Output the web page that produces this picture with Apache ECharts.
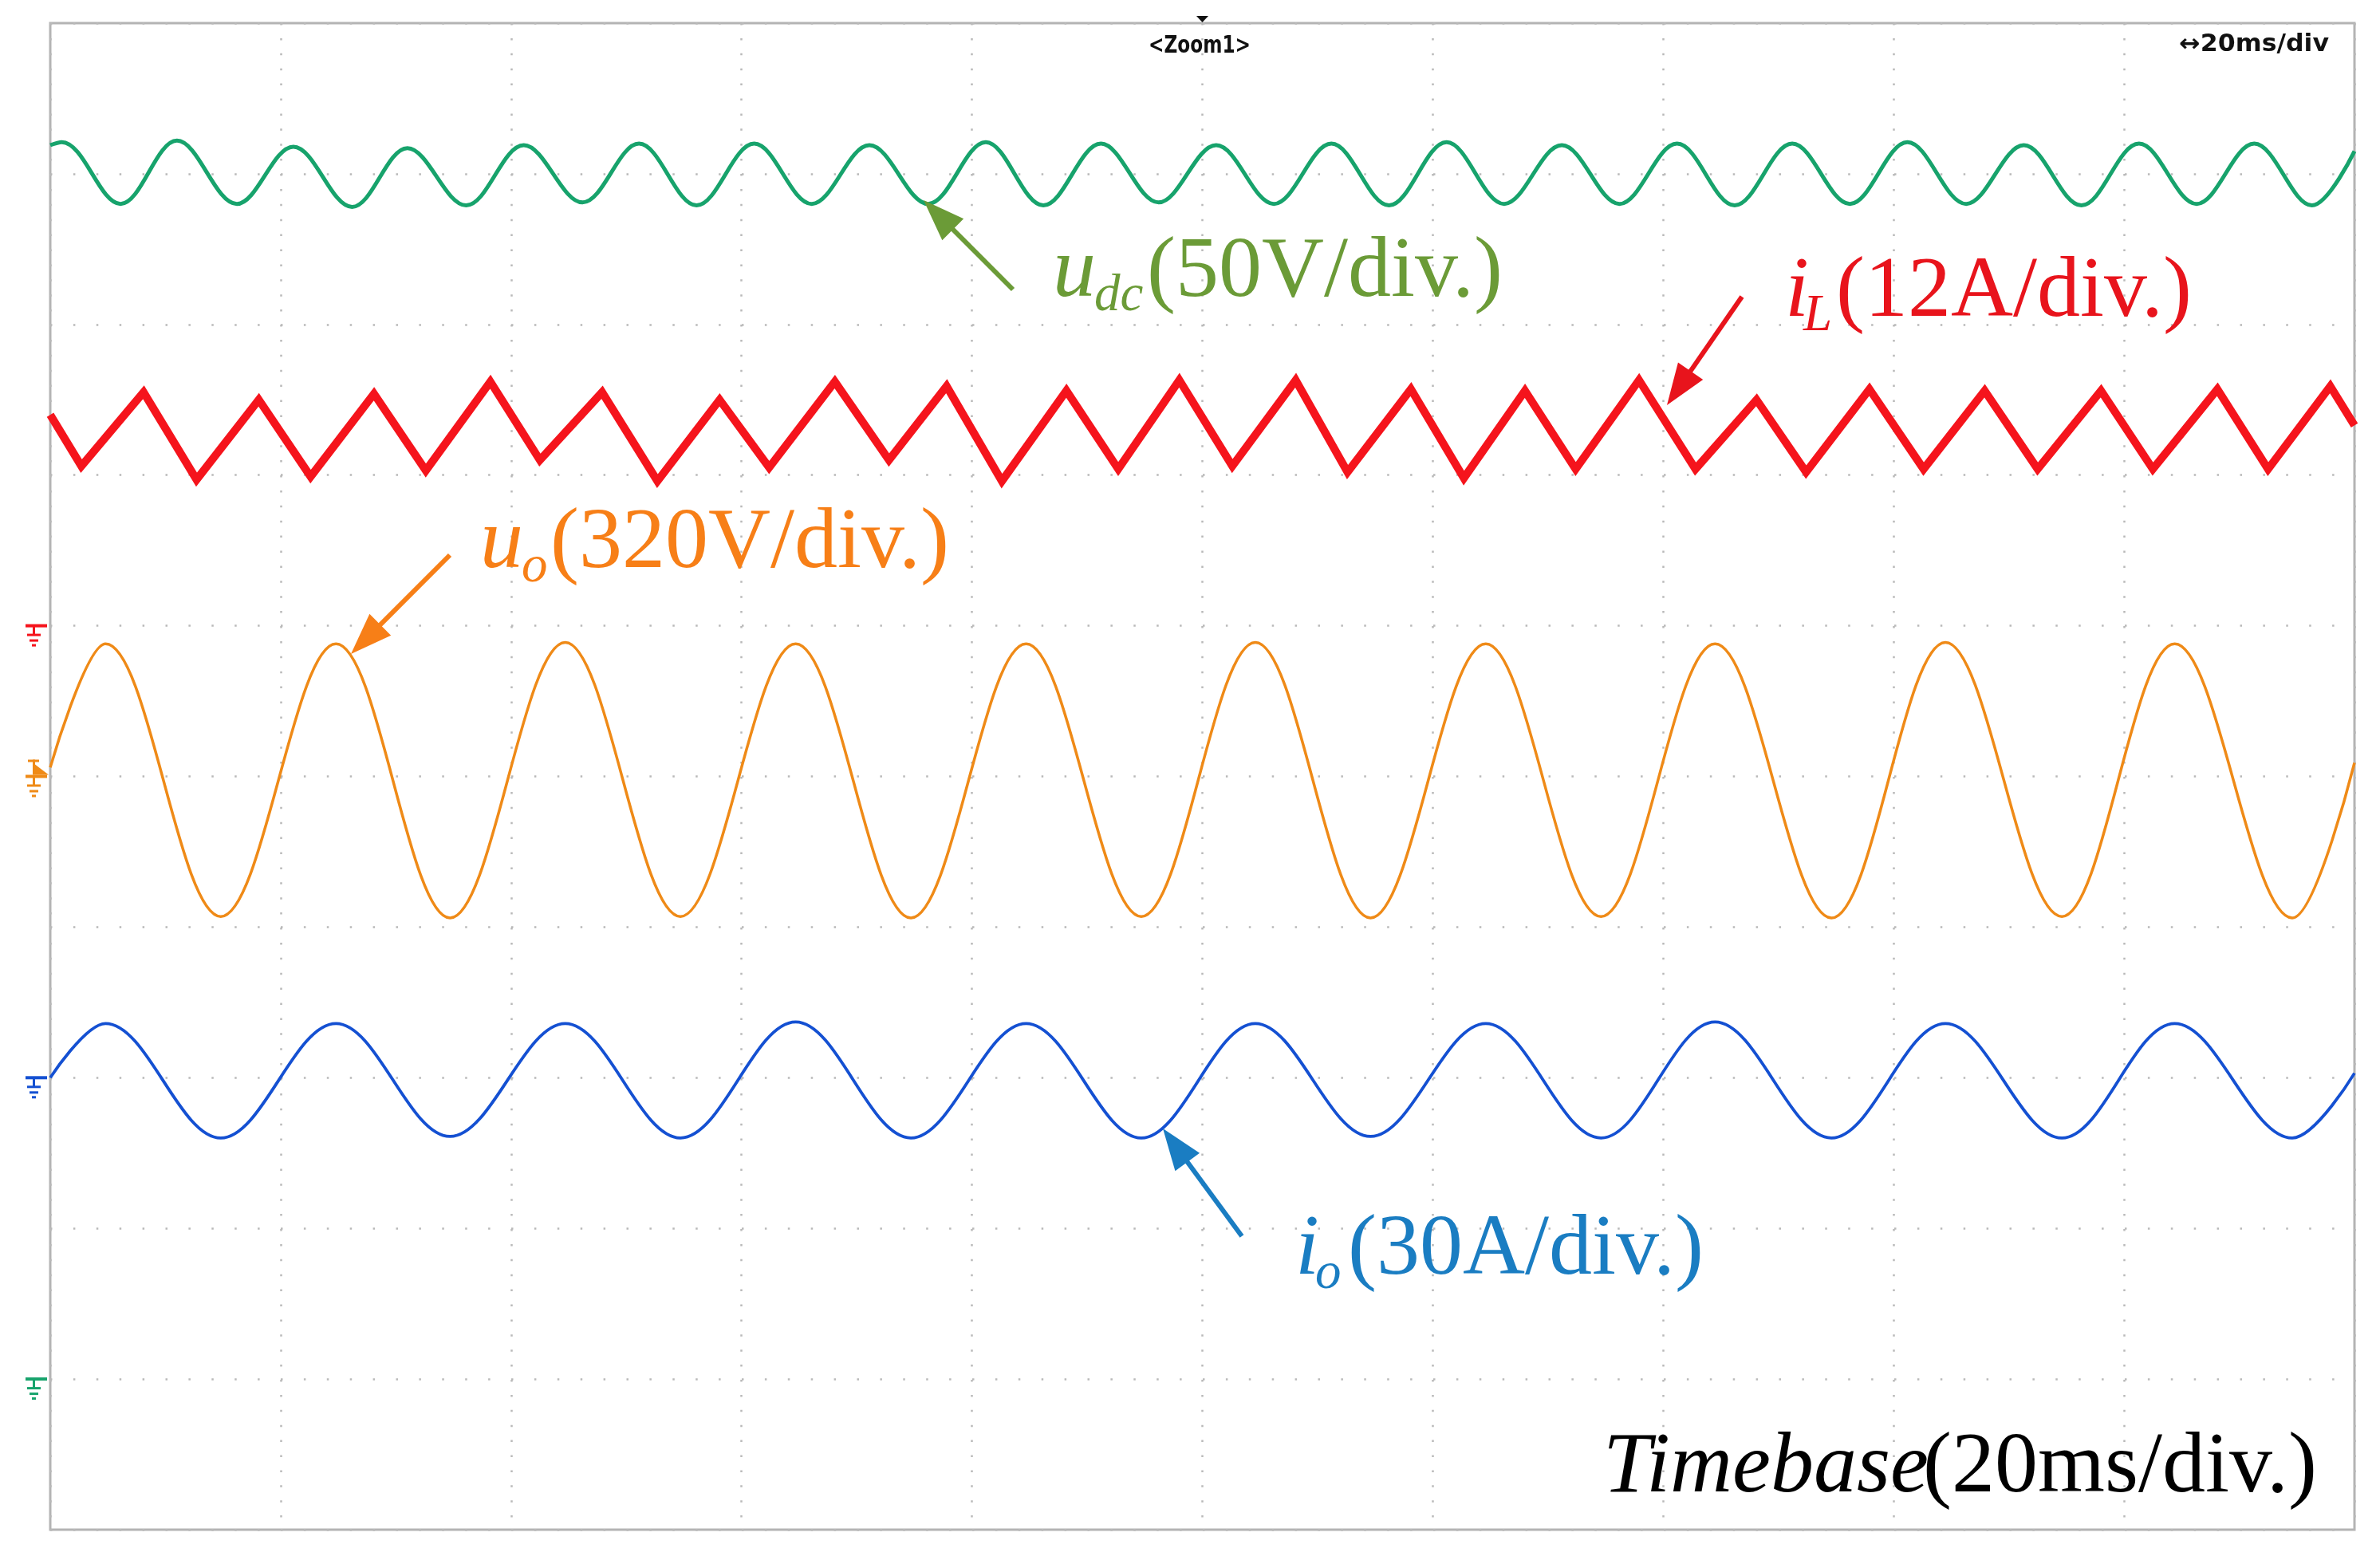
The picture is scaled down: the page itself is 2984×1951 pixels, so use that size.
<!DOCTYPE html>
<html>
<head>
<meta charset="utf-8">
<title>scope capture</title>
<script src="https://cdn.jsdelivr.net/npm/echarts@6/dist/echarts.min.js"></script>
<style>
html, body { margin: 0; padding: 0; background: #fff; }
#chart { width: 2984px; height: 1951px; }
</style>
</head>
<body>
<div id="chart"></div>
<script>
// time in ms (20 ms/div), level in divisions counted up from the bottom edge
// peaks / troughs read off the screen shot
var acTime = [0, 4.8, 14.8, 24.8, 34.7, 44.7, 54.7, 64.7, 74.7, 84.7, 94.7, 104.6, 114.6, 124.6, 134.6, 144.5, 154.6, 164.5, 174.6, 184.4, 194.6, 200];
var uoLevel = [5.06, 5.88, 4.07, 5.88, 4.06, 5.89, 4.07, 5.88, 4.06, 5.88, 4.07, 5.89, 4.06, 5.88, 4.07, 5.88, 4.06, 5.89, 4.07, 5.88, 4.06, 5.09];
var ioLevel = [3.00, 3.36, 2.60, 3.36, 2.61, 3.36, 2.60, 3.37, 2.60, 3.36, 2.60, 3.36, 2.61, 3.36, 2.60, 3.37, 2.60, 3.36, 2.60, 3.36, 2.60, 3.03];

var dcTime = [0, 1.0, 6.1, 11.0, 16.2, 21.1, 26.2, 31.0, 36.1, 41.1, 46.2, 51.1, 56.1, 61.1, 66.1, 71.1, 76.2, 81.2, 86.2, 91.2, 96.2,
    101.2, 106.2, 111.2, 116.2, 121.2, 126.2, 131.2, 136.2, 141.2, 146.2, 151.2, 156.2, 161.2, 166.3, 171.3, 176.3, 181.3, 186.3, 191.3, 196.3, 200];
var udcLevel = [9.19, 9.21, 8.80, 9.22, 8.80, 9.18, 8.78, 9.17, 8.79, 9.19, 8.81, 9.20, 8.79, 9.20, 8.80, 9.19, 8.80, 9.21, 8.79, 9.20, 8.81,
    9.19, 8.80, 9.20, 8.79, 9.21, 8.80, 9.19, 8.80, 9.20, 8.79, 9.20, 8.80, 9.21, 8.80, 9.19, 8.79, 9.20, 8.80, 9.20, 8.79, 9.15];

var lTime = [0, 2.7, 8.1, 12.7, 18.1, 22.6, 28.1, 32.6, 38.2, 42.5, 47.9, 52.7, 58.1, 62.4, 68.1, 72.8, 77.8, 82.6, 88.2, 92.7, 98.0,
    102.6, 108.1, 112.6, 118.1, 122.7, 128.0, 132.4, 137.9, 142.8, 148.1, 152.4, 157.9, 162.6, 167.9, 172.5, 178.0, 182.5, 188.1, 192.5, 197.9, 200];
var iLLevel = [7.40, 7.06, 7.55, 6.97, 7.50, 6.99, 7.54, 7.03, 7.62, 7.10, 7.55, 6.96, 7.50, 7.05, 7.62, 7.10, 7.59, 6.96, 7.56, 7.04, 7.63,
    7.06, 7.63, 7.02, 7.57, 6.98, 7.56, 7.04, 7.63, 7.04, 7.50, 7.02, 7.57, 7.04, 7.56, 7.04, 7.56, 7.04, 7.57, 7.04, 7.59, 7.33];

// ground marker level of each channel (div)
var groundLevel = { iL: 6, uo: 5, io: 3, udc: 1 };

var C_DC = '#17a36c', C_DC_TXT = '#6b9b37';
var C_L = '#f5141c', C_L_TXT = '#e8141c';
var C_O = '#ef8a17', C_O_TXT = '#f77f17';
var C_IO = '#1450d2', C_IO_TXT = '#1a7dc2';

var GX = 63, GY = 29, GW = 2889, GH = 1889;
var FS = 108, FS_SUB = 65; // label font sizes

function zip(t, v) {
    return t.map(function (x, i) { return [x, v[i]]; });
}
function yPix(div) {
    return GY + GH - div * GH / 10;
}

// text piece, y given as baseline
function txt(x, base, s, size, italic, color) {
    return {
        type: 'text', x: x, y: base - 0.34 * size, z: 20,
        style: {
            text: s, fontFamily: '"Liberation Serif", "Times New Roman", serif', fontSize: size,
            fontStyle: italic ? 'italic' : 'normal', fill: color, align: 'left', verticalAlign: 'middle'
        }
    };
}

function arrow(x0, y0, x1, y1, color) {
    var dx = x1 - x0, dy = y1 - y0;
    var len = Math.sqrt(dx * dx + dy * dy);
    var ux = dx / len, uy = dy / len;
    var hl = 52, hw = 19;
    var bx = x1 - ux * hl, by = y1 - uy * hl;
    return [{
        type: 'line', z: 20,
        shape: { x1: x0, y1: y0, x2: bx + ux * 5, y2: by + uy * 5 },
        style: { stroke: color, lineWidth: 6 }
    }, {
        type: 'polygon', z: 20,
        shape: { points: [[x1, y1], [bx - uy * hw, by + ux * hw], [bx + uy * hw, by - ux * hw]] },
        style: { fill: color }
    }];
}

// little ground symbol left of the screen
function ground(div, color) {
    var y = yPix(div);
    var st = { fill: color };
    return [
        { type: 'rect', z: 20, shape: { x: 32, y: y - 2, width: 27, height: 4 }, style: st },
        { type: 'rect', z: 20, shape: { x: 41, y: y, width: 3, height: 11 }, style: st },
        { type: 'rect', z: 20, shape: { x: 34, y: y + 10, width: 17, height: 3 }, style: st },
        { type: 'rect', z: 20, shape: { x: 37, y: y + 17, width: 11, height: 3 }, style: st },
        { type: 'rect', z: 20, shape: { x: 40, y: y + 23, width: 5, height: 3 }, style: st }
    ];
}

var chart = echarts.init(document.getElementById('chart'));

function paintScope() {
    var graphics = [];

    // labels
    graphics.push(txt(1320, 379, 'u', FS, true, C_DC_TXT));
    graphics.push(txt(1372, 394, 'dc', FS_SUB, true, C_DC_TXT));
    graphics.push(txt(1438, 379, '(50V/div.)', FS, false, C_DC_TXT));

    graphics.push(txt(2238, 404, 'i', FS, true, C_L_TXT));
    graphics.push(txt(2261, 419, 'L', FS_SUB, true, C_L_TXT));
    graphics.push(txt(2302, 404, '(12A/div.)', FS, false, C_L_TXT));

    graphics.push(txt(602, 719, 'u', FS, true, C_O_TXT));
    graphics.push(txt(654, 734, 'o', FS_SUB, true, C_O_TXT));
    graphics.push(txt(690, 719, '(320V/div.)', FS, false, C_O_TXT));

    graphics.push(txt(1624, 1605, 'i', FS, true, C_IO_TXT));
    graphics.push(txt(1649, 1620, 'o', FS_SUB, true, C_IO_TXT));
    graphics.push(txt(1690, 1605, '(30A/div.)', FS, false, C_IO_TXT));

    graphics.push(txt(2010, 1878, 'Timebase', FS, true, '#000'));
    graphics.push(txt(2411, 1878, '(20ms/div.)', FS, false, '#000'));

    // arrows
    graphics = graphics.concat(arrow(1270, 363, 1158, 251, C_DC_TXT));
    graphics = graphics.concat(arrow(2184, 372, 2090, 508, C_L_TXT));
    graphics = graphics.concat(arrow(564, 696, 440, 820, C_O_TXT));
    graphics = graphics.concat(arrow(1557, 1550, 1458, 1415, C_IO_TXT));

    // ground markers
    graphics = graphics.concat(ground(groundLevel.iL, C_L));
    graphics = graphics.concat(ground(groundLevel.uo, C_O));
    graphics = graphics.concat(ground(groundLevel.io, C_IO));
    graphics = graphics.concat(ground(groundLevel.udc, C_DC));
    // trigger mark on the uo channel
    var ty = yPix(groundLevel.uo);
    graphics.push({ type: 'rect', z: 20, shape: { x: 35, y: ty - 21, width: 14, height: 3 }, style: { fill: C_O } });
    graphics.push({ type: 'rect', z: 20, shape: { x: 41, y: ty - 21, width: 3, height: 19 }, style: { fill: C_O } });
    graphics.push({ type: 'polygon', z: 20, shape: { points: [[44, ty - 15], [61, ty - 2], [44, ty - 2]] }, style: { fill: C_O } });

    // scope header
    graphics.push({ type: 'polygon', z: 20, shape: { points: [[1500, 20], [1515, 20], [1507.5, 28]] }, style: { fill: '#111' } });
    graphics.push({
        type: 'text', x: 1504, y: 58, z: 20, scaleX: 0.86,
        style: { text: '<Zoom1>', fontFamily: '"DejaVu Sans Condensed", "DejaVu Sans"', fontWeight: 'bold', fontSize: 30, fill: '#111', align: 'center', verticalAlign: 'middle' }
    });
    graphics.push({
        type: 'text', x: 2920, y: 56, z: 20, scaleX: 1.17,
        style: { text: '\u219420ms/div', fontFamily: '"DejaVu Sans Condensed", "DejaVu Sans"', fontWeight: 'bold', fontSize: 30, fill: '#111', align: 'right', verticalAlign: 'middle' }
    });

    var option = {
        animation: false,
        backgroundColor: '#ffffff',
        grid: {
            left: GX, top: GY, width: GW, height: GH,
            show: true, borderColor: '#b4b4b4', borderWidth: 3
        },
        xAxis: {
            type: 'value', min: 0, max: 200, interval: 20,
            axisLine: { show: false }, axisTick: { show: false }, axisLabel: { show: false },
            splitLine: { show: true, lineStyle: { color: '#b9b9b9', width: 2.5, type: [2.5, 16.4] } }
        },
        yAxis: {
            type: 'value', min: 0, max: 10, interval: 1,
            axisLine: { show: false }, axisTick: { show: false }, axisLabel: { show: false },
            splitLine: { show: true, lineStyle: { color: '#b9b9b9', width: 2.5, type: [2.5, 26.4] } }
        },
        series: [{
            name: 'uo', type: 'line', symbol: 'none', smooth: 0.36,
            lineStyle: { color: C_O, width: 3.5 },
            data: zip(acTime, uoLevel)
        }, {
            name: 'io', type: 'line', symbol: 'none', smooth: 0.36,
            lineStyle: { color: C_IO, width: 3.8 },
            data: zip(acTime, ioLevel)
        }, {
            name: 'udc', type: 'line', symbol: 'none', smooth: 0.36,
            lineStyle: { color: C_DC, width: 5 },
            data: zip(dcTime, udcLevel)
        }, {
            name: 'iL', type: 'line', symbol: 'none',
            lineStyle: { color: C_L, width: 10, join: 'miter' },
            data: zip(lTime, iLLevel)
        }],
        graphic: graphics
    };
    chart.setOption(option);
}

paintScope();
</script>
</body>
</html>
